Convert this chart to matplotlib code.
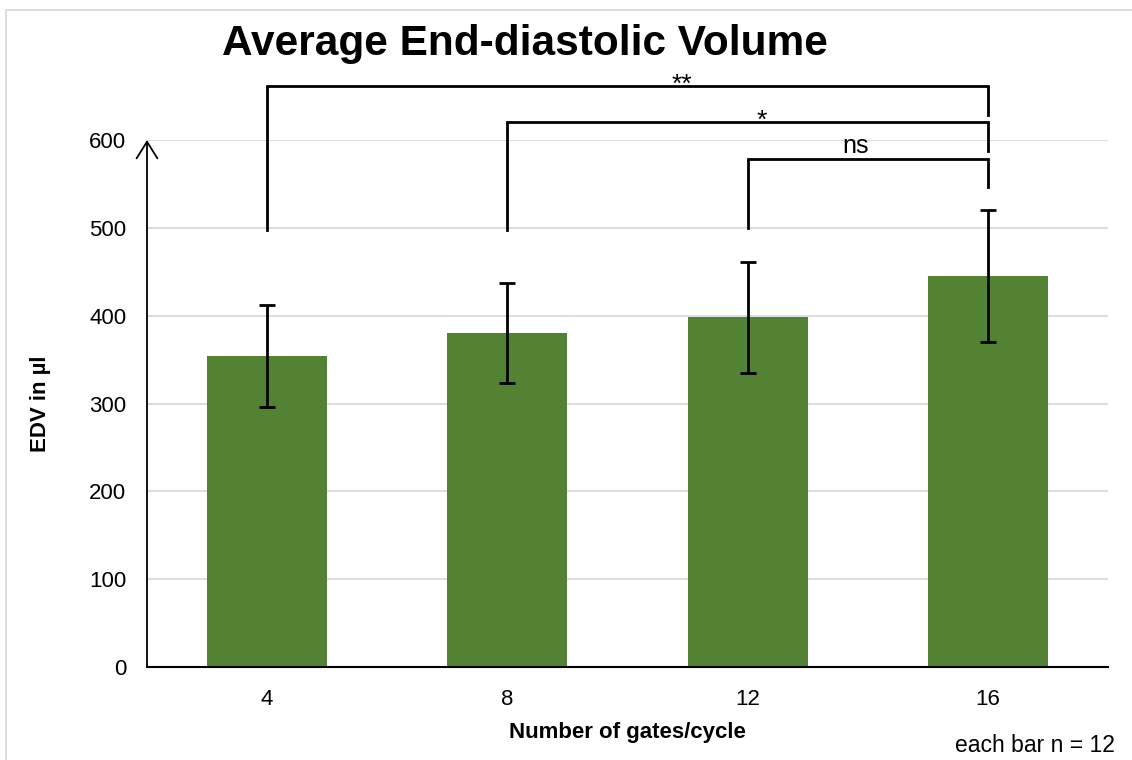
import numpy as np
import matplotlib
matplotlib.use("Agg")
import matplotlib.pyplot as plt
from matplotlib.patches import Rectangle

plt.rcParams["font.family"] = ["Liberation Sans", "DejaVu Sans"]

# ── data ────────────────────────────────────────────────────────────────
gates = ["4", "8", "12", "16"]
edv_mean = [354, 380, 398, 445]
edv_err = [58, 57, 63, 75]

# significance brackets (bar index, bracket height, leg ends, label)
brackets_left = [0, 1, 2]
brackets_right = [3, 3, 3]
brackets_y = [661, 620, 578]
brackets_left_bottom = [498, 498, 500]
brackets_right_bottom = [629, 588, 546]
brackets_label = ["**", "*", "ns"]
brackets_label_x = [1.725, 2.06, 2.45]
brackets_label_y = [655, 614, 585]
brackets_label_size = [19, 19, 18]

y_ticks = [0, 100, 200, 300, 400, 500, 600]

bar_color = "#548235"
grid_color = "#dadde2"

fig = plt.figure(figsize=(11.32, 7.6), dpi=100)
ax = fig.add_axes([147 / 1132, 93 / 760, 961 / 1132, 527 / 760])

x = np.arange(len(gates))
ax.bar(x, edv_mean, width=0.5, color=bar_color, zorder=2)
ax.errorbar(x, edv_mean, yerr=edv_err, fmt="none", ecolor="black",
            elinewidth=2.0, capsize=6, capthick=2.0, zorder=3)

ax.set_xlim(-0.5, 3.5)
ax.set_ylim(0, 600)
ax.set_xticks(x)
ax.set_xticklabels(gates, fontsize=16)
ax.set_yticks(y_ticks)
ax.set_yticklabels([str(t) for t in y_ticks], fontsize=16)
ax.tick_params(axis="both", length=0)
ax.tick_params(axis="x", pad=16)
ax.tick_params(axis="y", pad=15)

ax.grid(axis="y", color=grid_color, linewidth=1.5, zorder=0)
ax.set_axisbelow(True)
for side in ["top", "right", "left"]:
    ax.spines[side].set_visible(False)
ax.spines["bottom"].set_linewidth(1.5)
ax.spines["bottom"].set_zorder(4)

# y axis drawn as an arrow
ax.annotate("", xy=(-0.5, 600), xytext=(-0.5, 0),
            arrowprops=dict(arrowstyle="->, head_length=0.4, head_width=0.25",
                            color="black", lw=1.3, mutation_scale=30,
                            shrinkA=0, shrinkB=0),
            annotation_clip=False)

# significance brackets
for xl, xr, yb, lb, rb, lab, lx, ly, ls in zip(
        brackets_left, brackets_right, brackets_y, brackets_left_bottom,
        brackets_right_bottom, brackets_label, brackets_label_x,
        brackets_label_y, brackets_label_size):
    ax.plot([xl, xl, xr, xr], [lb, yb, yb, rb], color="black", lw=2.0,
            solid_joinstyle="miter", clip_on=False, zorder=5)
    ax.text(lx, ly, lab, ha="center", va="baseline", fontsize=ls)

ax.set_xlabel("Number of gates/cycle", fontsize=16, fontweight="bold")
ax.set_ylabel("EDV in µl", fontsize=16, fontweight="bold")
ax.xaxis.set_label_coords(0.5, -0.104)
ax.yaxis.set_label_coords(-0.10, 0.5)

fig.text(525 / 1132, 1 - 55 / 760, "Average End-diastolic Volume",
         ha="center", va="baseline", fontsize=30.5, fontweight="bold")
fig.text(1115 / 1132, 1 - 746 / 760, "each bar n = 12",
         ha="right", va="center", fontsize=16.5)

# light frame round the chart area
fig.patches.append(Rectangle((6 / 1132, -0.02), 1.1, 750 / 760 + 0.02,
                             transform=fig.transFigure, fill=False,
                             edgecolor="#d9d9d9", linewidth=1.3))

fig.savefig("out.png", dpi=100)
